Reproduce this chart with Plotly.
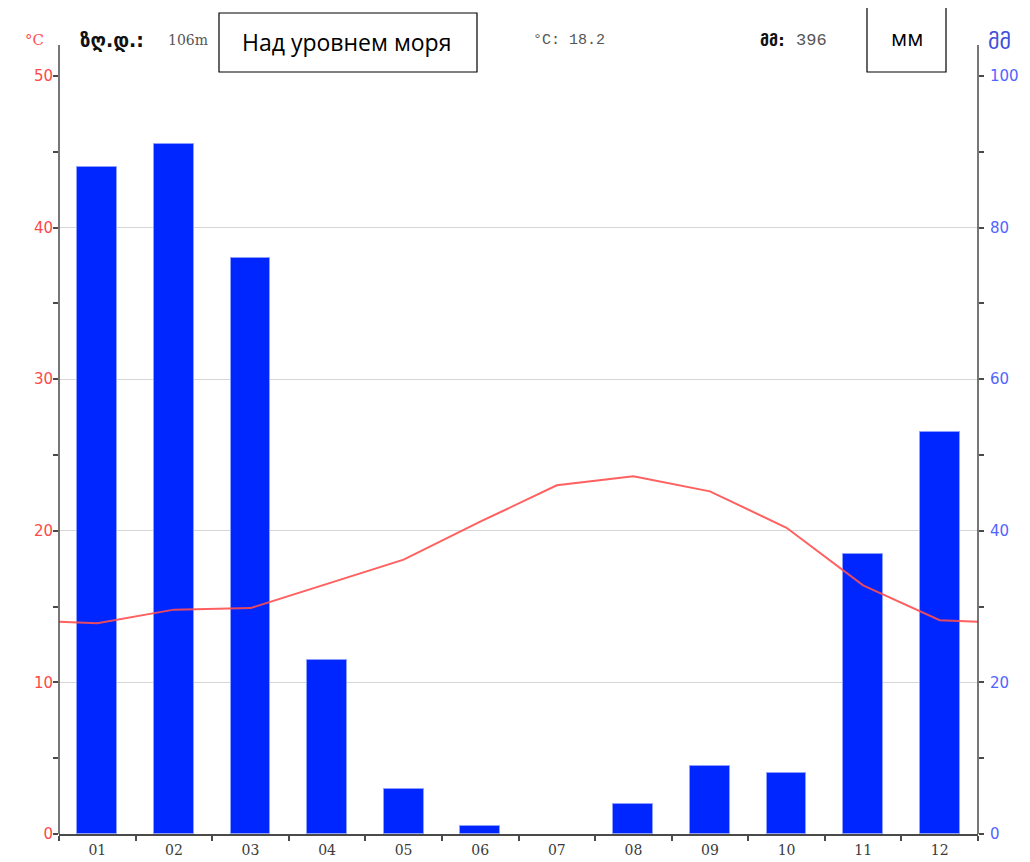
import plotly.graph_objects as go

# ---- data ----
months = ["01", "02", "03", "04", "05", "06", "07", "08", "09", "10", "11", "12"]
precip_mm = [88, 91, 76, 23, 6, 1, 0, 4, 9, 8, 37, 53]
temp_c = [13.9, 14.8, 14.9, 16.5, 18.1, 20.6, 23.0, 23.6, 22.6, 20.2, 16.4, 14.1]
temp_edges = [14.0, 14.0]  # line value at the left / right frame edges
temp_ticks = [0, 10, 20, 30, 40, 50]
precip_ticks = [0, 20, 40, 60, 80, 100]

# ---- geometry (screen pixels; page body adds an 8px offset) ----
W, H = 1030, 862
OFF = 8
L, R, T, B = 59, 978, 76, 834
PW, PH = R - L, B - T


def px(x):
    return (x - L) / PW


def py(y):
    return (B - y) / PH


xpos = [i + 1 for i in range(len(months))]
line_x = [0.5] + xpos + [len(months) + 0.5]
line_y = [temp_edges[0]] + temp_c + [temp_edges[1]]
bar_edge_w = [1 if v > 0 else 0 for v in precip_mm]

fig = go.Figure()
fig.add_trace(go.Bar(
    x=xpos, y=precip_mm, width=0.52,
    marker=dict(color="#0026ff", line=dict(color="#8ea0ff", width=bar_edge_w)),
    yaxis="y", hoverinfo="skip", showlegend=False,
))
fig.add_trace(go.Scatter(
    x=line_x, y=line_y, mode="lines",
    line=dict(color="#ff4f4f", width=2), opacity=0.9,
    yaxis="y2", hoverinfo="skip", showlegend=False,
))

axis_col = "#4a4a4a"
fig.update_layout(
    width=W, height=H,
    margin=dict(l=L - OFF, r=W - R + OFF, t=T - OFF, b=H - B + OFF, pad=0),
    paper_bgcolor="white", plot_bgcolor="white",
    bargap=0,
    xaxis=dict(
        range=[0.5, 12.5], tickmode="array", tickvals=xpos, ticktext=months,
        ticks="outside", ticklen=2, tickcolor="rgba(0,0,0,0)",
        minor=dict(tickmode="array", tickvals=[i + 0.5 for i in range(13)],
                   ticks="outside", ticklen=5, tickcolor=axis_col, tickwidth=1.5),
        showline=True, linecolor=axis_col, linewidth=1.5,
        showgrid=False, zeroline=False, automargin=False,
        tickfont=dict(family="DejaVu Serif", size=14, color="#3a3a3a"),
    ),
    yaxis=dict(
        side="right", range=[0, 100], tickmode="array", tickvals=precip_ticks,
        ticks="outside", ticklen=5, tickcolor=axis_col, tickwidth=1.5,
        minor=dict(dtick=10, tick0=0, ticks="outside", ticklen=5,
                   tickcolor=axis_col, tickwidth=1.5, showgrid=False),
        showgrid=True, gridcolor="#d6d6d6", gridwidth=1,
        showline=False, zeroline=False, automargin=False, ticklabelstandoff=3,
        tickfont=dict(family="DejaVu Sans", size=15, color="#5264ff"),
    ),
    yaxis2=dict(
        side="left", overlaying="y", range=[0, 50], tickmode="array", tickvals=temp_ticks,
        ticks="outside", ticklen=5, tickcolor=axis_col, tickwidth=1.5,
        minor=dict(dtick=5, tick0=0, ticks="outside", ticklen=5,
                   tickcolor=axis_col, tickwidth=1.5, showgrid=False),
        showgrid=False, showline=False, zeroline=False, automargin=False,
        ticklabelstandoff=-3,
        tickfont=dict(family="DejaVu Sans", size=15, color="#ff4848"),
    ),
)

# vertical frame lines extending above the plot area
for xx in (L, R):
    fig.add_shape(type="line", xref="paper", yref="paper",
                  x0=px(xx), x1=px(xx), y0=py(B), y1=py(45),
                  line=dict(color=axis_col, width=1.5), layer="above")

# header boxes
for (x0, y0, x1, y1) in [(219, 13, 477, 72), (867, 7, 946, 72)]:
    fig.add_shape(type="rect", xref="paper", yref="paper",
                  x0=px(x0), x1=px(x1), y0=py(y1), y1=py(y0),
                  line=dict(color="black", width=1.2), fillcolor="white", layer="above")


def note(text, x, y, size, color, family, anchor="left"):
    fig.add_annotation(text=text, x=px(x), y=py(y), xref="paper", yref="paper",
                       xanchor=anchor, yanchor="middle", showarrow=False,
                       font=dict(size=size, color=color, family=family))


note("°C", 23, 40, 15, "#ff5050", "DejaVu Serif")
note("<b>ზღ.დ.:</b>", 78, 40, 19, "#111", "DejaVu Sans")
note("106m", 166, 40, 14, "#555", "DejaVu Serif")
note("Над уровнем моря", 346, 42, 23, "#000", "Open Sans", "center")
note("°C: 18.2", 531, 40, 15, "#555", "Liberation Mono")
note("<b>მმ:</b>", 758, 40, 16, "#111", "DejaVu Sans")
note("396", 794, 40, 17, "#555", "Liberation Mono")
note("мм", 907, 37, 22, "#000", "Open Sans", "center")
note("მმ", 986, 42, 22, "#3f4fd8", "DejaVu Sans")

fig.write_html("out.html")
